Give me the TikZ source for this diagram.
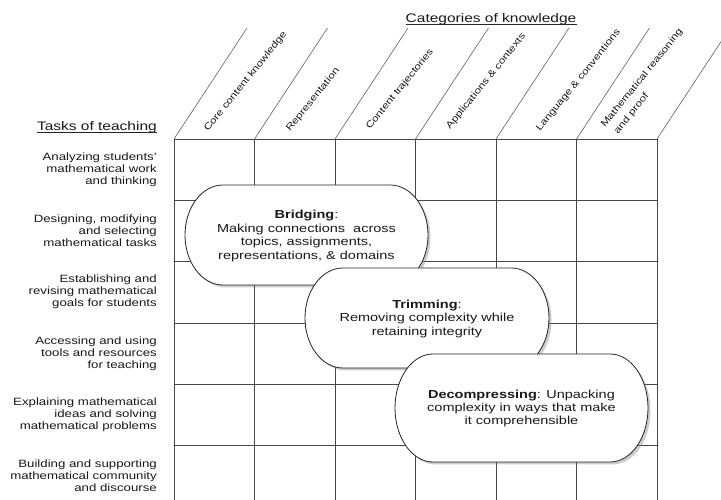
\documentclass[tikz,border=0pt]{standalone}
\usepackage{fontspec}
\setmainfont{Liberation Sans}[FakeStretch=1.25]
\usetikzlibrary{shadows}
\begin{document}
\begin{tikzpicture}[x=1pt,y=1pt,
  gridline/.style={draw=black!72, line width=0.7pt},
  slant/.style={draw=black!62, line width=0.6pt},
  rowlab/.style={anchor=east, align=right, inner sep=0pt, font=\fontsize{10.6}{12.2}\selectfont, text=black!90},
  collab/.style={anchor=base west, rotate=51, inner sep=0pt, font=\fontsize{9.3}{11}\selectfont, text=black!90},
  head/.style={inner sep=0pt, font=\fontsize{12.4}{14}\selectfont, text=black!90},
  bubble/.style={draw=black!85, line width=0.8pt, fill=white, drop shadow={shadow xshift=2.5pt, shadow yshift=-2.5pt, opacity=0.4}},
  bubtext/.style={align=center, inner sep=0pt, font=\fontsize{11.6}{13.4}\selectfont, text=black!90}
]
\useasboundingbox (0,0) rectangle (721,500);
\clip (0,0) rectangle (721,500);
\fill[white] (0,0) rectangle (721,500);

% grid
\foreach \i in {0,...,6} {
  \draw[gridline] ({174+80.5*\i},0) -- ({174+80.5*\i},361);
  \draw[slant] ({174+80.5*\i},361) -- ({247+80.5*\i},472);
}
\foreach \j in {0,...,5} \draw[gridline] (174,{361-61.3*\j}) -- (657,{361-61.3*\j});

% headers
\node[head, anchor=base east] (tasks) at (157,369.5) {Tasks of teaching};
\draw[black!85, line width=0.6pt] ([yshift=-1.6pt]tasks.base west) -- ([yshift=-1.6pt]tasks.base east);
\node[head, anchor=base] (cats) at (491,477) {Categories of knowledge};
\draw[black!85, line width=0.6pt] ([yshift=-1.6pt]cats.base west) -- ([yshift=-1.6pt]cats.base east);

% row labels
\node[rowlab] (r1) at (157,330.5) {Analyzing students'\\mathematical work\\and thinking};
\node[rowlab] (r2) at (157,269) {Designing, modifying\\and selecting\\mathematical tasks};
\node[rowlab] (r3) at (157,208) {Establishing and\\revising mathematical\\goals for students};
\node[rowlab] (r4) at (157,146.5) {Accessing and using\\tools and resources\\for teaching};
\node[rowlab] (r5) at (157,85) {Explaining mathematical\\ideas and solving\\mathematical problems};
\node[rowlab] (r6) at (157,24.5) {Building and supporting\\mathematical community\\and discourse};

% column labels
\node[collab] (c1) at (208,368) {Core content knowledge};
\node[collab] (c2) at (290,368) {Representation};
\node[collab] (c3) at (370,370) {Content trajectories};
\node[collab] (c4) at (450,370) {Applications \& contexts};
\node[collab] (c5) at (540,368) {Language \& conventions};
\node[collab] (c6a) at (605,372) {Mathematical reasoning};
\node[collab] (c6b) at (618,365.5) {and proof};

% bubbles
\draw[bubble] (223,315) -- (390,315) arc[start angle=90,end angle=-90,x radius=38,y radius=50] -- (223,215) arc[start angle=270,end angle=90,x radius=38,y radius=50] -- cycle;
\node[bubtext] (bridging) at (306.5,264) {\textbf{Bridging}:\\Making connections\ \ across\\topics, assignments,\\representations, \& domains};

\draw[bubble] (343,232) -- (511,232) arc[start angle=90,end angle=-90,x radius=38,y radius=50] -- (343,132) arc[start angle=270,end angle=90,x radius=38,y radius=50] -- cycle;
\node[bubtext] (trimming) at (427,181) {\textbf{Trimming}:\\Removing complexity while\\retaining integrity};

\draw[bubble] (433,146) -- (610,146) arc[start angle=90,end angle=-90,x radius=38,y radius=54] -- (433,38) arc[start angle=270,end angle=90,x radius=38,y radius=54] -- cycle;
\node[bubtext] (decomp) at (521.5,91.5) {\textbf{Decompressing}: Unpacking\\complexity in ways that make\\it comprehensible};
\end{tikzpicture}
\end{document}
